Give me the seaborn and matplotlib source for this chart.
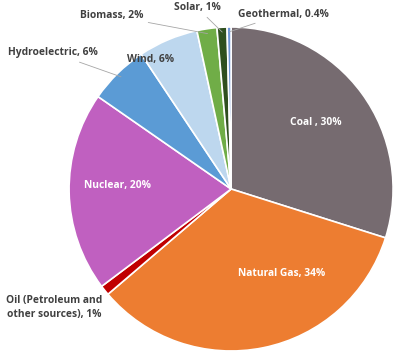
import seaborn as sns
import matplotlib.pyplot as plt
import numpy as np

sns.set_style('white')
plt.rcParams['font.family'] = ['Open Sans', 'DejaVu Sans']

# data (clockwise from 12 o'clock)
sources = ['Coal', 'Natural Gas', 'Oil (Petroleum and\nother sources)', 'Nuclear',
           'Hydroelectric', 'Wind', 'Biomass', 'Solar', 'Geothermal']
shares = [30, 34, 1, 20, 6, 6, 2, 1, 0.4]
share_text = ['30%', '34%', '1%', '20%', '6%', '6%', '2%', '1%', '0.4%']
colors = ['#766b70', '#ed7d31', '#c00000', '#c060c0', '#5b9bd5',
          '#bdd7ee', '#70ad47', '#2f4f1f', '#6f97d8']

fig = plt.figure(figsize=(4.04, 3.58), dpi=100)
ax = fig.add_axes([0.171, 0.0196, 0.802, 0.905])

wedges, _ = ax.pie(shares, colors=colors, startangle=90, counterclock=False,
                   wedgeprops=dict(edgecolor='white', linewidth=1.2))
ax.set_xlim(-1, 1)
ax.set_ylim(-1, 1)
ax.set_aspect('equal')

dark = '#404040'
fs = 7.4

# labels inside wedges
ax.text(0.52, 0.41, 'Coal , ' + share_text[0], color='white', fontsize=fs,
        fontweight='bold', ha='center', va='center')
ax.text(0.31, -0.52, sources[1] + ', ' + share_text[1], color='white', fontsize=fs,
        fontweight='bold', ha='center', va='center')
ax.text(-0.70, 0.02, sources[3] + ', ' + share_text[3], color='white', fontsize=fs,
        fontweight='bold', ha='center', va='center')
ax.text(-0.50, 0.80, sources[5] + ', ' + share_text[5], color=dark, fontsize=fs,
        fontweight='bold', ha='center', va='center')
ax.text(-1.09, -0.73, sources[2] + ', ' + share_text[2], color=dark, fontsize=fs,
        fontweight='bold', ha='center', va='center', linespacing=1.4)


def mid_point(i, r=1.0):
    w = wedges[i]
    a = np.deg2rad((w.theta1 + w.theta2) / 2)
    return r * np.cos(a), r * np.sin(a)


# labels outside with leader lines
outside = {4: ((-0.82, 0.84), 'right'), 6: ((-0.54, 1.07), 'right'),
           7: ((-0.21, 1.12), 'center'), 8: ((0.04, 1.08), 'left')}
for i, (pos, ha) in outside.items():
    ax.annotate(sources[i] + ', ' + share_text[i], xy=mid_point(i, 0.97), xytext=pos,
                color=dark, fontsize=fs, fontweight='bold', ha=ha, va='center',
                arrowprops=dict(arrowstyle='-', color='#a6a6a6', lw=0.6,
                                shrinkA=1, shrinkB=0))

fig.savefig('out.png', dpi=100)
